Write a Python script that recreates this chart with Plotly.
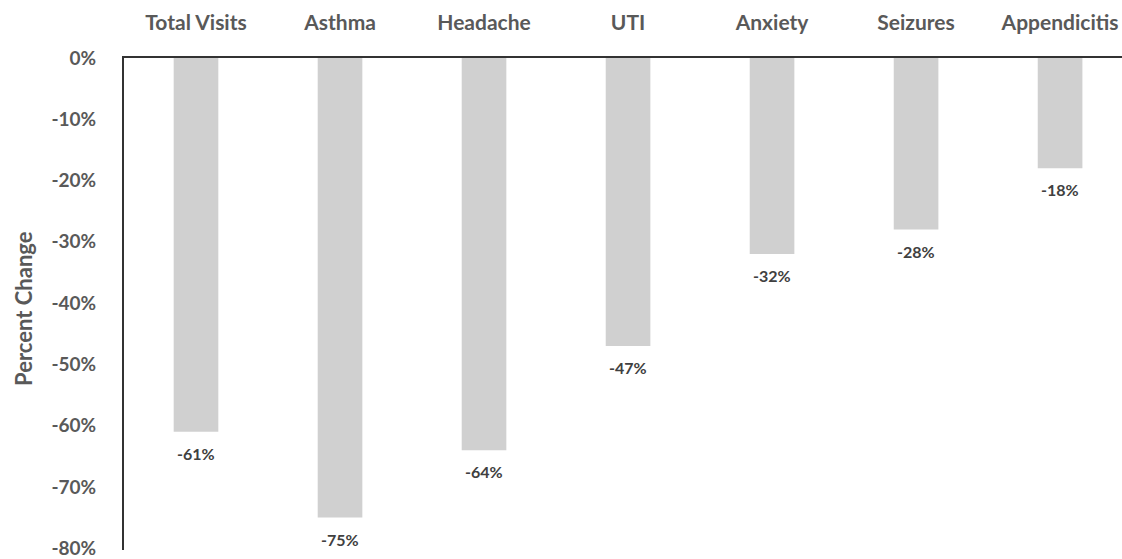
import plotly.graph_objects as go

categories = ["Total Visits", "Asthma", "Headache", "UTI", "Anxiety", "Seizures", "Appendicitis"]
values = [-61, -75, -64, -47, -32, -28, -18]
y_ticks = [0, -10, -20, -30, -40, -50, -60, -70, -80]
y_tick_labels = [f"{v}%" for v in y_ticks]
value_labels = [f"{v}%" for v in values]

FONT = "Lato"
fig = go.Figure()
fig.add_trace(go.Bar(
    x=list(range(len(categories))), y=values,
    marker=dict(color="#d0d0d0", line=dict(width=0)),
    width=0.31, hoverinfo="skip",
))

for i, (v, lab) in enumerate(zip(values, value_labels)):
    fig.add_annotation(x=i, y=v, text=f"<b>{lab}</b>", showarrow=False,
                       yanchor="top", yshift=-10,
                       font=dict(family=FONT, size=16, color="#404040"))

fig.add_annotation(xref="paper", yref="paper", x=(24 - 124) / 998, y=0.49,
                   text="<b>Percent Change</b>", textangle=-90, showarrow=False,
                   xanchor="center", yanchor="middle",
                   font=dict(family=FONT, size=22, color="#595959"))

fig.update_layout(
    width=1122, height=559,
    margin=dict(l=124, r=0, t=58, b=7),
    plot_bgcolor="white", paper_bgcolor="white",
    showlegend=False,
    xaxis=dict(
        side="top", range=[-0.5, 6.43],
        tickvals=list(range(len(categories))),
        ticktext=[f"<b>{c}</b>" for c in categories],
        tickfont=dict(family=FONT, size=21, color="#595959"),
        showline=True, linecolor="#333333", linewidth=2,
        showgrid=False, zeroline=False, ticks="", ticklabelstandoff=18,
        ticklabeloverflow="allow",
    ),
    yaxis=dict(
        range=[-80.3, 0], tickvals=y_ticks,
        ticktext=[f"<b>{t}</b>" for t in y_tick_labels],
        tickfont=dict(family=FONT, size=19, color="#595959"),
        showline=True, linecolor="#333333", linewidth=2,
        showgrid=False, zeroline=False, ticks="", ticklabelstandoff=22,
        ticklabeloverflow="allow",
    ),
)

fig.write_html("out.html")
